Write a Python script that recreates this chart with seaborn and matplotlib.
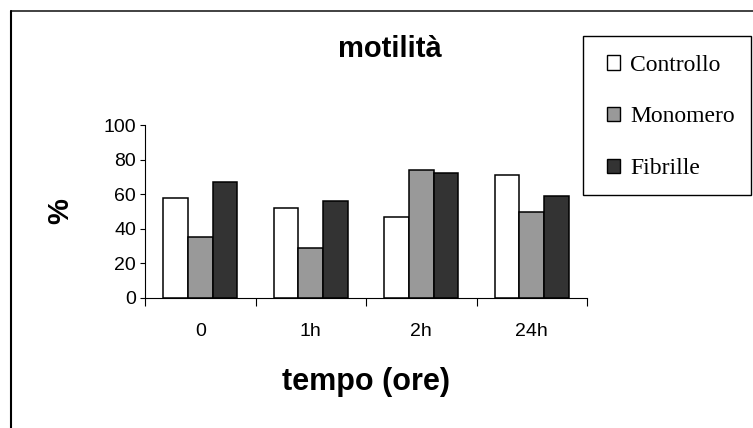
import matplotlib
matplotlib.use("Agg")
import matplotlib.pyplot as plt
import seaborn as sns
import pandas as pd
from matplotlib.patches import Patch, Rectangle
from matplotlib.lines import Line2D

# dati
tempi = ['0', '1h', '2h', '24h']
controllo = [58, 52, 47, 71]
monomero = [35, 28.7, 74, 50]
fibrille = [67, 56, 72, 59]
serie = ['Controllo', 'Monomero', 'Fibrille']
colori = ['#ffffff', '#999999', '#333333']

df = pd.DataFrame({
    'tempo': tempi * 3,
    'valore': controllo + monomero + fibrille,
    'gruppo': [s for s in serie for _ in tempi],
})

sns.set_style('ticks')
plt.rcParams['font.family'] = ['Liberation Sans', 'DejaVu Sans']
plt.rcParams['text.color'] = 'black'
plt.rcParams['axes.labelcolor'] = 'black'
plt.rcParams['xtick.color'] = 'black'
plt.rcParams['ytick.color'] = 'black'

fig = plt.figure(figsize=(7.53, 4.28), dpi=100)
ax = fig.add_axes([145 / 753, 1 - 298 / 428, 442 / 753, 173 / 428])

sns.barplot(data=df, x='tempo', y='valore', hue='gruppo', order=tempi,
            hue_order=serie, palette=colori, width=0.67,
            edgecolor='black', linewidth=1.1, legend=False, ax=ax)

ax.set_ylim(0, 100)
ax.set_xlim(-0.5, 3.5)
ax.set_yticks(range(0, 101, 20))
ax.set_xticks([-0.5, 0.5, 1.5, 2.5, 3.5], minor=False)
ax.set_xticklabels([])
ax.set_xticks(range(4), minor=True)
ax.set_xticklabels(tempi, minor=True)
ax.tick_params(axis='x', which='major', length=6, width=0.8, color='black')
ax.tick_params(axis='x', which='minor', length=0, pad=18, labelsize=14,
               labelcolor='black')
ax.tick_params(axis='y', length=3.5, width=0.8, pad=3, labelsize=14,
               color='black', labelcolor='black')
for s in ['top', 'right']:
    ax.spines[s].set_visible(False)
for s in ['left', 'bottom']:
    ax.spines[s].set_linewidth(0.8)
    ax.spines[s].set_color('black')

ax.set_xlabel('tempo (ore)', fontsize=22, fontweight='bold', color='black')
ax.set_ylabel('%', fontsize=21, fontweight='bold', color='black')
ax.xaxis.set_label_coords(0.5, -0.40)
ax.yaxis.set_label_coords(-0.16, 0.5)

fig.text(390 / 753, 1 - 49 / 428, 'motilità', fontsize=21, fontweight='bold',
         ha='center', va='center', color='black')

# cornice esterna (solo lati sinistro e superiore visibili)
fig.add_artist(Line2D([11 / 753, 1.0], [1 - 11 / 428, 1 - 11 / 428],
                      transform=fig.transFigure, color='#333333', lw=1.3))
fig.add_artist(Line2D([11 / 753, 11 / 753], [0.0, 1 - 11 / 428],
                      transform=fig.transFigure, color='black', lw=1.5))

# riquadro legenda
fig.add_artist(Rectangle((583 / 753, 1 - 195 / 428), 168 / 753, 159 / 428,
                         transform=fig.transFigure, fill=False,
                         edgecolor='black', lw=1.0))
handles = [Patch(facecolor=c, edgecolor='black', lw=1.0) for c in colori]
fig.legend(handles, serie, loc='center', bbox_to_anchor=(671 / 753, 1 - 117 / 428),
           frameon=False, labelcolor='black',
           prop={'family': 'Liberation Serif', 'size': 17},
           handlelength=0.55, handleheight=0.55, handletextpad=0.45,
           labelspacing=1.3, borderpad=0)

fig.savefig('out.png', dpi=100)
